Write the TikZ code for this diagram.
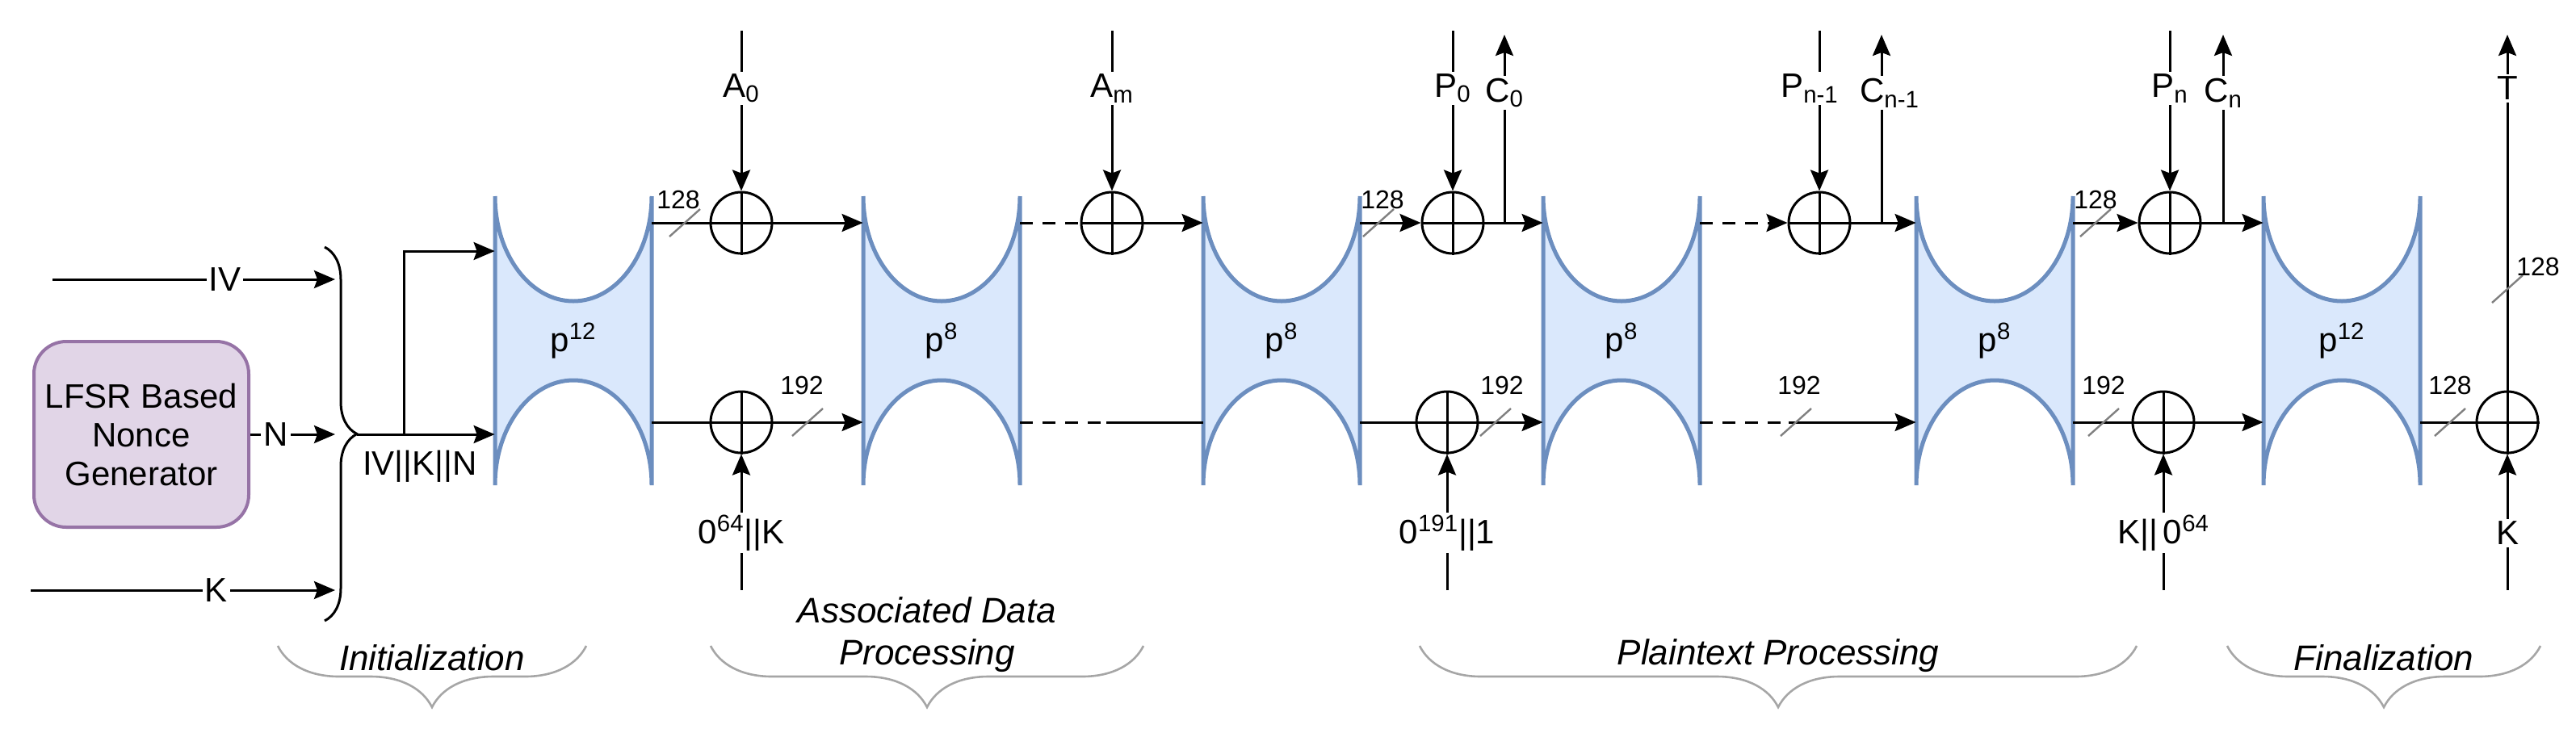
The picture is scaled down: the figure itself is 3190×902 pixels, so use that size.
\documentclass[tikz,border=0pt]{standalone}
\usepackage{fontspec}
\setmainfont{Liberation Sans}
\usetikzlibrary{arrows.meta,decorations.pathreplacing}
\definecolor{pfill}{HTML}{DAE8FC}
\definecolor{pdraw}{HTML}{6C8EBF}
\definecolor{lfill}{HTML}{E1D5E7}
\definecolor{ldraw}{HTML}{9673A6}
\begin{document}
\begin{tikzpicture}[x=0.5pt,y=-0.5pt,
  every node/.style={font=\fontsize{21}{24}\selectfont},
  perm/.style={minimum width=97pt,minimum height=309pt,inner sep=0pt},
  permshape/.style={draw=pdraw,line width=2.5pt,fill=pfill},
  xor/.style={draw,circle,line width=1.5pt,minimum size=38pt,inner sep=0pt},
  ln/.style={line width=1.5pt},
  ar/.style={line width=1.5pt,-{Stealth[length=13pt,width=11pt,inset=2pt]}},
  dsh/.style={line width=1.5pt,dash pattern=on 8pt off 6pt},
  lbl/.style={fill=white,inner sep=1.5pt},
  num/.style={font=\fontsize{16}{18}\selectfont,inner sep=1pt},
  sl/.style={draw=gray,line width=1.2pt},
  gbrace/.style={draw=gray!70,line width=1.3pt,decorate,decoration={brace,amplitude=38pt}},
  phase/.style={font=\fontsize{22}{26}\selectfont\itshape,align=center}]
\useasboundingbox (0,0) rectangle (3190,902);
% permutation shapes
\foreach \x in {710,1166,1587,2008,2470,2900}{
  \begin{scope}[shift={(\x,422)}]
  \draw[permshape] (-97,-179) arc[start angle=180,end angle=0,x radius=97,y radius=130] -- (97,179) arc[start angle=0,end angle=-180,x radius=97,y radius=130] -- cycle;
  \end{scope}
}
\node[perm] (E1) at (710,422) {p\textsuperscript{12}};
\node[perm] (E2) at (1166,422) {p\textsuperscript{8}};
\node[perm] (E3) at (1587,422) {p\textsuperscript{8}};
\node[perm] (E4) at (2008,422) {p\textsuperscript{8}};
\node[perm] (E5) at (2470,422) {p\textsuperscript{8}};
\node[perm] (E6) at (2900,422) {p\textsuperscript{12}};
% LFSR
\node[draw=ldraw,line width=2pt,fill=lfill,rounded corners=20pt,minimum width=133pt,minimum height=115pt,align=center] (L) at (175,538) {LFSR Based\\Nonce\\Generator};
% xors
\foreach \n/\x/\y in {XA0/918/276,XAm/1377/276,XP0/1799/276,XPa/2253/276,XPn/2687/276,XB1/918/523,XB2/1792/523,XB3/2679/523,XB4/3105/523}{
  \node[xor] (\n) at (\x,\y) {};
  \draw[ln] (\n.north)--(\n.south) (\n.west)--(\n.east);
}
% left inputs
\coordinate (iv0) at (65,346); \coordinate (iv1) at (415,346);
\coordinate (k0) at (38,731); \coordinate (k1) at (415,731);
\coordinate (n1) at (415,538);
\draw[ar] (iv0) -- node[lbl,pos=0.61]{IV} (iv1);
\draw[ar] (k0) -- node[lbl,pos=0.61]{K} (k1);
\draw[ar] (L.east) -- node[lbl,pos=0.3]{N} (n1);
\draw[line width=1.5pt,decorate,decoration={brace,amplitude=20pt}] (402,306) -- (402,769);
\coordinate (bt) at (442,538); \coordinate (br) at (500,538);
\draw[ar] (bt) -- (E1.west |- bt);
\draw[ar] (br) |- (E1.west |- 0,311);
\node at (520,578) {IV||K||N};
% top row
\draw[ln] (E1.east |- XA0) -- (XA0);
\draw[ar] (XA0.east) -- (E2.west |- XA0);
\draw[dsh] (E2.east |- XAm) -- (XAm.west);
\draw[ar] (XAm.east) -- (E3.west |- XAm);
\draw[ar] (E3.east |- XP0) -- (XP0.west);
\draw[ar] (XP0.east) -- (E4.west |- XP0);
\coordinate (d1) at (2200,276);
\draw[dsh] (E4.east |- XPa) -- (d1);
\draw[ar] (d1) -- (XPa.west);
\draw[ar] (XPa.east) -- (E5.west |- XPa);
\draw[ar] (E5.east |- XPn) -- (XPn.west);
\draw[ar] (XPn.east) -- (E6.west |- XPn);
% top inputs
\foreach \n/\t/\dx in {XA0/A\textsubscript{0}/0,XAm/A\textsubscript{m}/0,XP0/P\textsubscript{0}/0,XPa/P\textsubscript{n-1}/-12,XPn/P\textsubscript{n}/0}{
  \coordinate (\n i) at (\n |- 0,38);
  \draw[ar] (\n i) -- node[lbl,pos=0.36,xshift=\dx*0.5pt]{\t} (\n.north);
}
% C outputs
\foreach \c/\x/\t/\dx in {c0/1863/C\textsubscript{0}/0,ca/2330/C\textsubscript{n-1}/10,cn/2753/C\textsubscript{n}/0}{
  \coordinate (\c s) at (\x,276); \coordinate (\c e) at (\x,43);
  \draw[ar] (\c s) -- node[lbl,pos=0.69,xshift=\dx*0.5pt]{\t} (\c e);
}
\coordinate (te) at (3105,43);
\draw[ar] (XB4.north) -- node[lbl,pos=0.85]{T} (te);
% bottom row
\draw[ln] (E1.east |- XB1) -- (XB1.west);
\draw[ar] (XB1.east) -- (E2.west |- XB1);
\coordinate (d2) at (1370,523);
\draw[dsh] (E2.east |- d2) -- (d2);
\draw[ln] (d2) -- (E3.west |- d2);
\draw[ln] (E3.east |- XB2) -- (XB2.west);
\draw[ar] (XB2.east) -- (E4.west |- XB2);
\coordinate (d3) at (2215,523);
\draw[dsh] (E4.east |- d3) -- (d3);
\draw[ar] (d3) -- (E5.west |- d3);
\draw[ln] (E5.east |- XB3) -- (XB3.west);
\draw[ar] (XB3.east) -- (E6.west |- XB3);
\draw[ln] (E6.east |- XB4) -- (XB4.west);
% bottom inputs
\foreach \n/\t in {XB1/0\textsuperscript{64}||K,XB2/0\textsuperscript{191}||1,XB3/K||\,0\textsuperscript{64},XB4/K}{
  \coordinate (\n i) at (\n |- 0,731);
  \draw[ar] (\n i) -- node[lbl,pos=0.42]{\t} (\n.south);
}
% slashes and widths
\foreach \x/\y in {848/276,1707/276,2595/276,1000/523,1852/523,2224/523,2605/523,3034/523,3105/358}{
  \draw[sl] (\x-19,\y+17) -- (\x+19,\y-17);
}
\foreach \x/\y/\t in {840/247/128,1712/247/128,2595/247/128,993/477/192,1860/477/192,2228/477/192,2605/477/192,3034/477/128,3143/330/128}{
  \node[num] at (\x,\y) {\t};
}
% phase braces
\draw[gbrace] (726,800) -- (344,800);
\node[phase] at (535,815) {Initialization};
\draw[gbrace] (1416,800) -- (880,800);
\node[phase] at (1148,786) {Associated Data\\Processing};
\draw[gbrace] (2646,800) -- (1758,800);
\node[phase] at (2202,812) {Plaintext Processing};
\draw[gbrace] (3146,800) -- (2758,800);
\node[phase] at (2952,815) {Finalization};
\end{tikzpicture}
\end{document}
